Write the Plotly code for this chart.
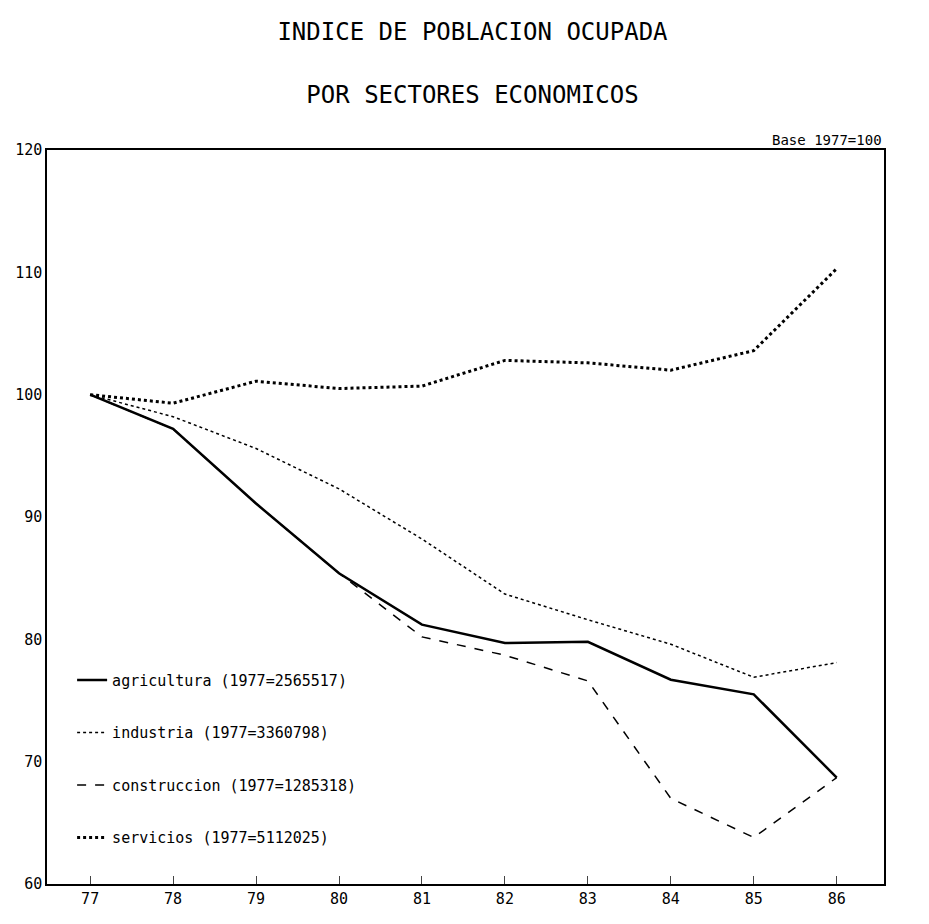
import plotly.graph_objects as go

years = [77, 78, 79, 80, 81, 82, 83, 84, 85, 86]
agricultura = [100, 97.2, 91.1, 85.4, 81.2, 79.7, 79.8, 76.7, 75.5, 68.7]
industria = [100, 98.2, 95.6, 92.3, 88.2, 83.7, 81.6, 79.6, 76.9, 78.1]
construccion = [100, 97.2, 91.1, 85.4, 80.2, 78.7, 76.6, 67.0, 63.8, 68.7]
servicios = [100, 99.3, 101.1, 100.5, 100.7, 102.8, 102.6, 102.0, 103.6, 110.3]
names = ["agricultura (1977=2565517)", "industria (1977=3360798)",
         "construccion (1977=1285318)", "servicios (1977=5112025)"]
x_ticks = ["77", "78", "79", "80", "81", "82", "83", "84", "85", "86"]
y_ticks = [60, 70, 80, 90, 100, 110, 120]

F = "DejaVu Sans Mono"
fig = go.Figure()
series = [(agricultura, "solid", 2.5), (industria, "dot", 1.5),
          (construccion, "dash", 1.5), (servicios, "dot", 3)]
for i, (vals, dash, w) in enumerate(series):
    fig.add_trace(go.Scatter(x=years, y=vals, mode="lines", name=names[i],
                             legendgroup=str(i),
                             line=dict(color="black", width=w, dash=dash)))

fig.update_layout(
    width=929, height=924, paper_bgcolor="white", plot_bgcolor="white",
    margin=dict(l=39, r=53, t=142, b=48, autoexpand=False),
    font=dict(family=F, color="black", size=13),
    title=dict(text="INDICE DE POBLACION OCUPADA<br><br>POR SECTORES ECONOMICOS",
               x=0.5, y=0.965, xanchor="center", yanchor="top",
               font=dict(family=F, size=24)),
    legend=dict(x=0.03, y=0.3, xanchor="left", yanchor="top",
                traceorder="grouped", tracegroupgap=30, bgcolor="rgba(0,0,0,0)",
                font=dict(family=F, size=15)),
    xaxis=dict(range=[76.48, 86.57], tickvals=years, ticktext=x_ticks,
               showgrid=False, zeroline=False, showline=True, mirror=True,
               linecolor="black", linewidth=1.5, ticks="inside", ticklen=8,
               tickfont=dict(size=15), automargin=False),
    yaxis=dict(range=[60, 120], tickvals=y_ticks, showgrid=False, zeroline=False,
               showline=True, mirror=True, linecolor="black", linewidth=1.5,
               ticks="", tickfont=dict(size=15), automargin=False),
)
fig.add_annotation(text="Base 1977=100", xref="paper", yref="paper", x=1.0, y=1.0,
                   xanchor="right", yanchor="bottom", showarrow=False,
                   font=dict(family=F, size=14))
fig.write_html("out.html")
